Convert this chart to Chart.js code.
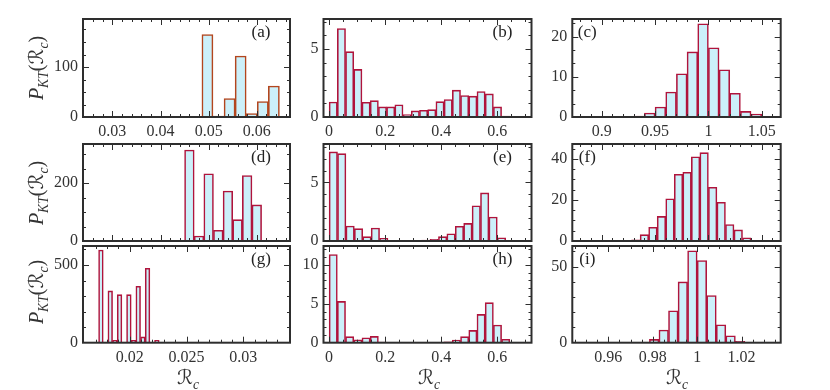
<!DOCTYPE html>
<html>
<head>
<meta charset="utf-8">
<script src="https://cdn.jsdelivr.net/npm/chart.js@4.4.1/dist/chart.umd.min.js"></script>
<style>
  body { margin: 0; background: #fff; }
  #wrap { position: relative; width: 830px; height: 390px; overflow: hidden; }
  #wrap canvas { position: absolute; left: 0; top: 0; }
  .ylab, .xlab {
    position: absolute; white-space: nowrap; color: #333;
    font-family: 'Liberation Serif', 'DejaVu Serif', 'DejaVu Sans', serif;
    font-size: 20px; line-height: 1;
  }
  .ylab { transform: translate(-50%, -50%) rotate(-90deg); }
  .xlab { transform: translate(-50%, -50%); }
  .ylab sub, .xlab sub { font-size: 0.68em; }
</style>
</head>
<body>
<div id="wrap"></div>
<script>
// histogram bins (centres) and heights
const aBins = [0.04975, 0.05205, 0.05435, 0.05665, 0.05895, 0.06125, 0.06355];
const aCounts = [165, 2, 37, 122, 7, 31, 62];

const bBins = [0.0147, 0.0440, 0.0733, 0.1026, 0.1319, 0.1612, 0.1905, 0.2198, 0.2491, 0.2784, 0.3077,
               0.3370, 0.3663, 0.3956, 0.4249, 0.4542, 0.4835, 0.5128, 0.5421, 0.5714, 0.6007, 0.6300];
const bCounts = [1.1, 6.5, 4.8, 3.5, 1.08, 1.2, 0.74, 0.74, 0.9, 0.17, 0.45,
                 0.49, 0.54, 1.13, 1.28, 1.97, 1.58, 1.53, 1.87, 1.7, 0.74, 0.07];

const cBins = [0.935, 0.945, 0.955, 0.965, 0.975, 0.985, 0.995, 1.005, 1.015, 1.025, 1.035, 1.045];
const cCounts = [0.25, 1.0, 2.5, 6.2, 10.75, 16.2, 23.2, 17.25, 11.75, 5.9, 1.4, 0.75];

const dBins = [0.046, 0.048, 0.050, 0.052, 0.054, 0.056, 0.058, 0.060];
const dCounts = [315, 17, 233, 37, 173, 74, 227, 125];

const eBins = [0.015, 0.045, 0.075, 0.105, 0.135, 0.165, 0.195, 0.225, 0.255, 0.285, 0.315,
               0.345, 0.375, 0.405, 0.435, 0.465, 0.495, 0.525, 0.555, 0.585, 0.615, 0.645];
const eCounts = [7.6, 7.45, 1.28, 1.05, 0.37, 1.1, 0.23, 0.06, 0.05, 0.05, 0.03,
                 0.08, 0.14, 0.37, 0.62, 1.25, 1.5, 3.0, 4.1, 2.05, 0.28, 0];

const fBins = [0.924, 0.932, 0.940, 0.948, 0.956, 0.964, 0.972, 0.980,
               0.988, 0.996, 1.004, 1.012, 1.020, 1.028, 1.036, 1.044];
const fCounts = [0.15, 0.6, 3.1, 6.7, 12.0, 20.6, 32.5, 33.5, 41.1, 43.1, 26.2, 18.9, 8.0, 5.4, 1.6, 0.3];

const gBins = [0.017475, 0.017885, 0.018295, 0.018705, 0.019115, 0.019525, 0.019935,
               0.020345, 0.020755, 0.021165, 0.021575, 0.021985, 0.022395];
const gCounts = [596, 0, 333, 15, 309, 0, 309, 15, 363, 37, 479, 0, 15];

const hBins = bBins;
const hCounts = [11.3, 5.3, 0.77, 0.38, 0.64, 0.81, 0.08, 0, 0, 0, 0.04,
                 0.04, 0.04, 0.04, 0.1, 0.34, 0.77, 1.58, 3.63, 5.13, 2.26, 0.43];

const iBins = [0.98065, 0.98495, 0.98925, 0.99355, 0.99785, 1.00215, 1.00645, 1.01075, 1.01505, 1.01935];
const iCounts = [2.2, 8.3, 21, 40, 60.5, 54, 31, 11.8, 4.6, 0.9];

// tick values
const xTicksAD = [0.03, 0.04, 0.05, 0.06];
const xTicksBEH = [0, 0.2, 0.4, 0.6];
const xTicksCF = [0.9, 0.95, 1, 1.05];
const xTicksG = [0.02, 0.025, 0.03];
const xTicksI = [0.96, 0.98, 1, 1.02];
const yTicksA = [0, 100];
const yTicksB = [0, 5];
const yTicksC = [0, 10, 20];
const yTicksD = [0, 200];
const yTicksE = [0, 5];
const yTicksF = [0, 20, 40];
const yTicksG = [0, 500];
const yTicksH = [0, 5, 10];
const yTicksI = [0, 50];

const FILL = '#ccf0fa';
const EDGE = '#b0143c';
const FRAME = '#2e2e2e';
const FONT = "'Liberation Serif', 'DejaVu Serif', serif";
const Y_W = 40;   // space kept for y tick labels
const X_H = 24;   // space kept for x tick labels

// layout of each plot frame: [left, top, right, bottom]
const panels = [
  { tag: '(a)', bins: aBins, counts: aCounts, x: [0.0239, 0.0669], y: 196, xt: xTicksAD, yt: yTicksA, xs: 5, ys: 4, showX: true, box: [83, 19, 290, 117], edge: '#b3461e', tagLeft: false },
  { tag: '(b)', bins: bBins, counts: bCounts, x: [-0.02, 0.722], y: 7.2, xt: xTicksBEH, yt: yTicksB, xs: 4, ys: 5, showX: true, box: [323.5, 19, 531.5, 117], edge: EDGE, tagLeft: false },
  { tag: '(c)', bins: cBins, counts: cCounts, x: [0.8724, 1.0678], y: 24.4, xt: xTicksCF, yt: yTicksC, xs: 5, ys: 3, showX: true, box: [572.3, 19, 780.7, 117], edge: EDGE, tagLeft: true },
  { tag: '(d)', bins: dBins, counts: dCounts, x: [0.0239, 0.0669], y: 336, xt: xTicksAD, yt: yTicksD, xs: 5, ys: 4, showX: false, box: [83, 144, 290, 241], edge: EDGE, tagLeft: false },
  { tag: '(e)', bins: eBins, counts: eCounts, x: [-0.02, 0.722], y: 8.27, xt: xTicksBEH, yt: yTicksE, xs: 4, ys: 5, showX: false, box: [323.5, 144, 531.5, 241], edge: EDGE, tagLeft: false },
  { tag: '(f)', bins: fBins, counts: fCounts, x: [0.8724, 1.0678], y: 47.3, xt: xTicksCF, yt: yTicksF, xs: 5, ys: 4, showX: false, box: [572.3, 144, 780.7, 241], edge: EDGE, tagLeft: true },
  { tag: '(g)', bins: gBins, counts: gCounts, x: [0.0159, 0.0341], y: 622, xt: xTicksG, yt: yTicksG, xs: 5, ys: 5, showX: true, box: [83, 246, 290, 342.7], edge: EDGE, tagLeft: false },
  { tag: '(h)', bins: hBins, counts: hCounts, x: [-0.02, 0.722], y: 12.4, xt: xTicksBEH, yt: yTicksH, xs: 4, ys: 5, showX: true, box: [323.5, 246, 531.5, 342.7], edge: EDGE, tagLeft: false },
  { tag: '(i)', bins: iBins, counts: iCounts, x: [0.9438, 1.0376], y: 63.6, xt: xTicksI, yt: yTicksI, xs: 4, ys: 5, showX: true, box: [572.3, 246, 780.7, 342.7], edge: EDGE, tagLeft: true }
];

// frame with inward ticks on all four sides, plus the panel tag
const frameTicks = {
  id: 'frameTicks',
  afterDatasetsDraw(chart, args, opts) {
    const { ctx, chartArea: ca, scales } = chart;
    const line = (x1, y1, x2, y2) => { ctx.beginPath(); ctx.moveTo(x1, y1); ctx.lineTo(x2, y2); ctx.stroke(); };
    const minors = (scale, sub) => {
      const t = scale.ticks.map(k => k.value);
      const step = (t.length > 1 ? t[1] - t[0] : t[0]) / sub;
      const out = [];
      for (let v = t[0] - step * Math.ceil((t[0] - scale.min) / step); v <= scale.max + 1e-12; v += step) out.push(v);
      return out;
    };
    ctx.save();
    ctx.strokeStyle = FRAME;
    ctx.lineWidth = 1;
    [[minors(scales.x, opts.xs), 3], [scales.x.ticks.map(k => k.value), 6]].forEach(([vals, len]) => {
      vals.forEach(v => {
        const px = Math.round(scales.x.getPixelForValue(v)) + 0.5;
        if (px < ca.left + 2 || px > ca.right - 2) return;
        line(px, ca.bottom, px, ca.bottom - len);
        line(px, ca.top, px, ca.top + len);
      });
    });
    [[minors(scales.y, opts.ys), 3], [scales.y.ticks.map(k => k.value), 6]].forEach(([vals, len]) => {
      vals.forEach(v => {
        const py = Math.round(scales.y.getPixelForValue(v)) + 0.5;
        if (py < ca.top + 2 || py > ca.bottom - 2) return;
        line(ca.left, py, ca.left + len, py);
        line(ca.right, py, ca.right - len, py);
      });
    });
    ctx.lineWidth = 2;
    ctx.strokeRect(ca.left, ca.top, ca.right - ca.left, ca.bottom - ca.top);
    ctx.fillStyle = '#222';
    ctx.font = '17px ' + FONT;
    ctx.textAlign = 'center';
    ctx.textBaseline = 'middle';
    ctx.fillText(opts.tag, opts.tagLeft ? ca.left + 15 : ca.right - 29, ca.top + 14);
    ctx.restore();
  }
};

const wrap = document.getElementById('wrap');

panels.forEach(p => {
  const cv = document.createElement('canvas');
  cv.width = 830;
  cv.height = 390;
  cv.style.width = '830px';
  cv.style.height = '390px';
  wrap.appendChild(cv);

  new Chart(cv, {
    type: 'bar',
    data: {
      datasets: [{
        data: p.bins.map((b, i) => ({ x: b, y: p.counts[i] })),
        backgroundColor: FILL,
        borderColor: p.edge,
        borderWidth: 1.6,
        barPercentage: 1,
        categoryPercentage: 1,
        grouped: false
      }]
    },
    options: {
      responsive: false,
      animation: false,
      devicePixelRatio: 1,
      layout: {
        padding: { left: p.box[0] - Y_W, top: p.box[1], right: 830 - p.box[2], bottom: 390 - p.box[3] - X_H }
      },
      plugins: {
        legend: { display: false },
        tooltip: { enabled: false },
        frameTicks: { xs: p.xs, ys: p.ys, tag: p.tag, tagLeft: p.tagLeft }
      },
      scales: {
        x: {
          type: 'linear',
          min: p.x[0],
          max: p.x[1],
          offset: false,
          grid: { display: false, drawTicks: false, offset: false },
          border: { display: false },
          afterBuildTicks: s => { s.ticks = p.xt.map(v => ({ value: v })); },
          afterFit: s => { s.height = X_H; },
          ticks: {
            display: p.showX,
            autoSkip: false,
            maxRotation: 0,
            padding: 5,
            color: '#333',
            font: { family: FONT, size: 16 },
            callback: v => String(v)
          }
        },
        y: {
          min: 0,
          max: p.y,
          grid: { display: false, drawTicks: false },
          border: { display: false },
          afterBuildTicks: s => { s.ticks = p.yt.map(v => ({ value: v })); },
          afterFit: s => { s.width = Y_W; },
          ticks: {
            padding: 5,
            color: '#333',
            font: { family: FONT, size: 16 },
            callback: v => String(v)
          }
        }
      }
    },
    plugins: [frameTicks]
  });
});

// axis titles
const yTitle = '<i>P</i><sub><i>KT</i></sub>(<i>ℛ</i><sub><i>c</i></sub>)';
const xTitle = '<i>ℛ</i><sub><i>c</i></sub>';
[[38, 68], [38, 193], [38, 292]].forEach(([x, y]) => {
  const d = document.createElement('div');
  d.className = 'ylab';
  d.style.left = x + 'px';
  d.style.top = y + 'px';
  d.innerHTML = yTitle;
  wrap.appendChild(d);
});
[[188, 379], [429, 379], [677, 379]].forEach(([x, y]) => {
  const d = document.createElement('div');
  d.className = 'xlab';
  d.style.left = x + 'px';
  d.style.top = y + 'px';
  d.innerHTML = xTitle;
  wrap.appendChild(d);
});
</script>
</body>
</html>
